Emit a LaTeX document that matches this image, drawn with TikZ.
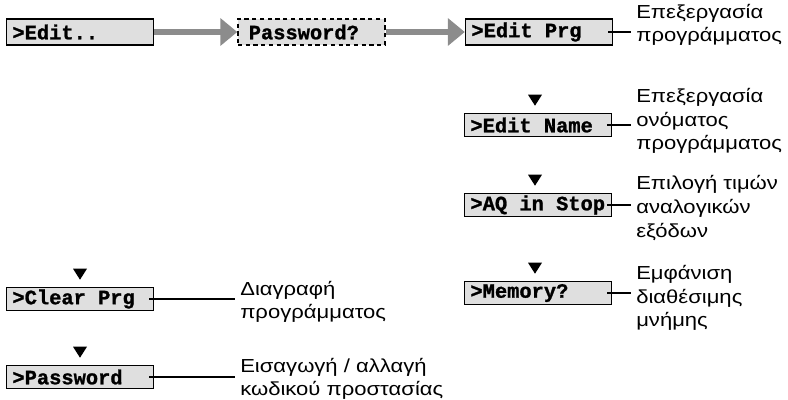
\documentclass[tikz,border=0pt]{standalone}
\usepackage{fontspec}
\setmainfont{Liberation Sans}
\newfontfamily\greekfont[FakeStretch=1.17]{Liberation Sans}
\newfontfamily\lcdfont[BoldFeatures={FakeBold=1.2}]{Liberation Mono}
\usetikzlibrary{arrows.meta,positioning}

\begin{document}
\begin{tikzpicture}[x=0.025cm, y=-0.025cm,
    lcd/.style={draw, line width=1pt, fill=gray!25,
                font=\lcdfont\bfseries\fontsize{14.5}{14.5}\selectfont,
                minimum width=3.675cm, minimum height=0.58cm,
                execute at begin node={\hbox to 3.375cm\bgroup},
                execute at end node={\hfil\egroup},
                inner xsep=0.15cm, inner ysep=0pt},
    top/.style={minimum height=0.65cm},
    dashbox/.style={lcd, dash pattern=on 3pt off 2.5pt},
    flow/.style={-{Triangle[length=12pt,width=19pt]}, line width=3.6pt, black!45},
    link/.style={line width=1pt},
    note/.style={anchor=west, align=left, inner xsep=0.125cm, inner ysep=0pt,
                 font=\greekfont\fontsize{13.4}{16.8}\selectfont}
  ]
    \useasboundingbox (0,0) rectangle (788,400);

    \node[lcd, top] (edit) at (80,32) {>Edit..};
    \node[dashbox, top] (pwq) at (311.5,32) {\hspace*{0.12cm}Password?};
    \node[lcd, top] (prg) at (539,32) {>Edit Prg};
    \node[lcd] (name) at (538,125) {>Edit Name};
    \node[lcd] (aq) at (538,205) {>AQ in Stop};
    \node[lcd] (mem) at (538,293) {>Memory?};
    \node[lcd] (clr) at (80,299) {>Clear Prg};
    \node[lcd] (pwd) at (80,377) {>Password};

    \draw[flow] (edit) -- (pwq);
    \draw[flow] (pwq) -- (prg);

    \foreach \b/\dx in {name/-3, aq/-3, mem/-3, clr/0, pwd/0}
      \fill (\b.north) ++(\dx,-7) -- ++(-7,-11) -- ++(14,0) -- cycle;

    \node[note] (nprg) at (631,25) {Επεξεργασία\\προγράμματος};
    \node[note] (nname) at (631,121) {Επεξεργασία\\ονόματος\\προγράμματος};
    \node[note] (naq) at (631,208) {Επιλογή τιμών\\αναλογικών\\εξόδων};
    \node[note] (nmem) at (631,298) {Εμφάνιση\\διαθέσιμης\\μνήμης};
    \node[note] (nclr) at (235,302) {Διαγραφή\\προγράμματος};
    \node[note] (npwd) at (235,379) {Εισαγωγή / αλλαγή\\κωδικού προστασίας};

    \foreach \b/\n in {prg/nprg, name/nname, aq/naq, mem/nmem, clr/nclr, pwd/npwd}
      \draw[link] ([xshift=-0.125cm]\b.east) -- (\n.west |- \b.east);
  \end{tikzpicture}
\end{document}
